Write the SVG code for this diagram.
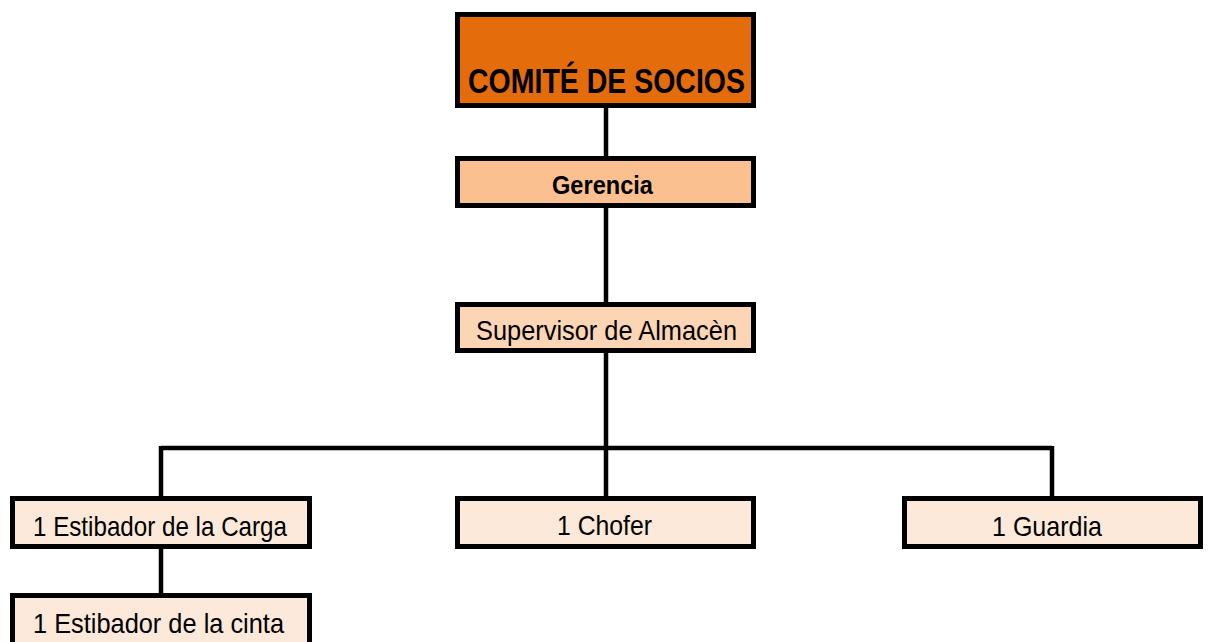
<svg xmlns="http://www.w3.org/2000/svg" width="1208" height="642" viewBox="0 0 1208 642">
<style>
.box{stroke:#000;stroke-width:5}
.t{font-family:"Liberation Sans",Arial,sans-serif;fill:#000;text-anchor:start}
.c{stroke:#000;stroke-width:4.5;fill:none}
</style>
<rect width="1208" height="642" fill="#fff"/>
<g id="connectors">
<path class="c" d="M606 106V158M606 206V304M606 351V448M161 448H1052M161 446V498M606 446V498M1052 446V498M161 547V595"/>
</g>
<g id="comite">
<rect class="box" x="457.5" y="14.5" width="296" height="91" fill="#E46C0A"/>
<text class="t" x="468" y="93" font-size="35" font-weight="bold" textLength="277" lengthAdjust="spacingAndGlyphs">COMITÉ DE SOCIOS</text>
</g>
<g id="gerencia">
<rect class="box" x="457.5" y="158.5" width="296" height="47" fill="#FAC090"/>
<text class="t" x="552" y="194" font-size="26" font-weight="bold" textLength="101" lengthAdjust="spacingAndGlyphs">Gerencia</text>
</g>
<g id="supervisor">
<rect class="box" x="457.5" y="304.5" width="296" height="46" fill="#FCD5B5"/>
<text class="t" x="476" y="340" font-size="28" textLength="261" lengthAdjust="spacingAndGlyphs">Supervisor de Almacèn</text>
</g>
<g id="estibador-carga">
<rect class="box" x="12.5" y="498.5" width="297" height="48" fill="#FDE9D9"/>
<text class="t" x="33" y="536" font-size="28" textLength="254" lengthAdjust="spacingAndGlyphs">1 Estibador de la Carga</text>
</g>
<g id="chofer">
<rect class="box" x="457.5" y="498.5" width="296" height="48" fill="#FDE9D9"/>
<text class="t" x="557" y="535" font-size="28" textLength="95" lengthAdjust="spacingAndGlyphs">1 Chofer</text>
</g>
<g id="guardia">
<rect class="box" x="904.5" y="498.5" width="296" height="48" fill="#FDE9D9"/>
<text class="t" x="992" y="536" font-size="28" textLength="110" lengthAdjust="spacingAndGlyphs">1 Guardia</text>
</g>
<g id="estibador-cinta">
<rect class="box" x="12.5" y="595.5" width="297" height="60" fill="#FDE9D9"/>
<text class="t" x="33" y="633" font-size="28" textLength="251" lengthAdjust="spacingAndGlyphs">1 Estibador de la cinta</text>
</g>
</svg>
